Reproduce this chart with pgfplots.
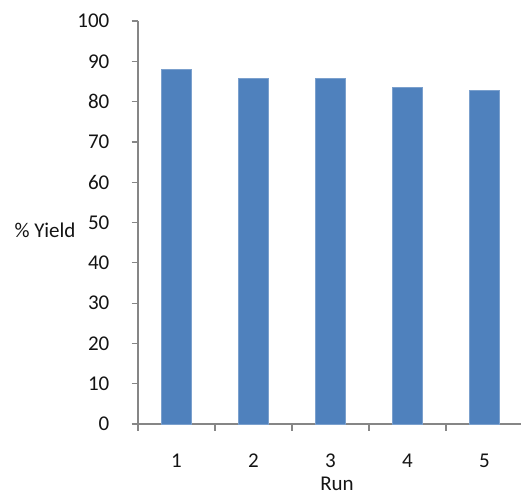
\documentclass[border=0pt]{standalone}
\usepackage{pgfplots}
\pgfplotsset{compat=1.18}
\usepackage{fontspec}
\setmainfont{Carlito}
\definecolor{barblue}{HTML}{4F81BD}
\definecolor{axgray}{HTML}{868686}
\definecolor{txt}{HTML}{141414}
\begin{document}
\begin{tikzpicture}[font=\fontsize{21}{25}\selectfont]
\useasboundingbox (0,0) rectangle (521pt,496pt);
\begin{axis}[
  at={(138pt,72pt)}, anchor=south west,
  scale only axis, width=385pt, height=403pt,
  xmin=0.5, xmax=5.5, ymin=0, ymax=100,
  ybar, bar width=30pt, bar shift=0pt,
  axis lines*=left,
  axis line style={draw=axgray, line width=1.2pt},
  tick align=outside,
  major tick length=6.5pt,
  tick style={draw=axgray, line width=1.2pt},
  ytick={0,10,...,100},
  xtick={0.5,1.5,...,5.5},
  xticklabels={},
  extra x ticks={1,2,3,4,5},
  extra x tick labels={1,2,3,4,5},
  extra x tick style={major tick length=0pt},
  /pgf/number format/assume math mode=true,
  yticklabel style={anchor=east, inner sep=0pt, xshift=-22pt, text=txt},
  xticklabel style={anchor=center, inner sep=0pt, yshift=-37pt, text=txt},
  xlabel={Run},
  xlabel style={at={(axis description cs:0.517,-0.149)}, anchor=center, inner sep=0pt, text=txt},
  ylabel={\% Yield},
  ylabel style={at={(axis description cs:-0.2416,0.481)}, anchor=center, rotate=-90, inner sep=0pt, text=txt},
]
\addplot[fill=barblue, draw=barblue!75!white, line width=0.6pt] coordinates {
  (1,87.9) (2,85.8) (3,85.8) (4,83.6) (5,82.8)
};
\end{axis}
\end{tikzpicture}
\end{document}
